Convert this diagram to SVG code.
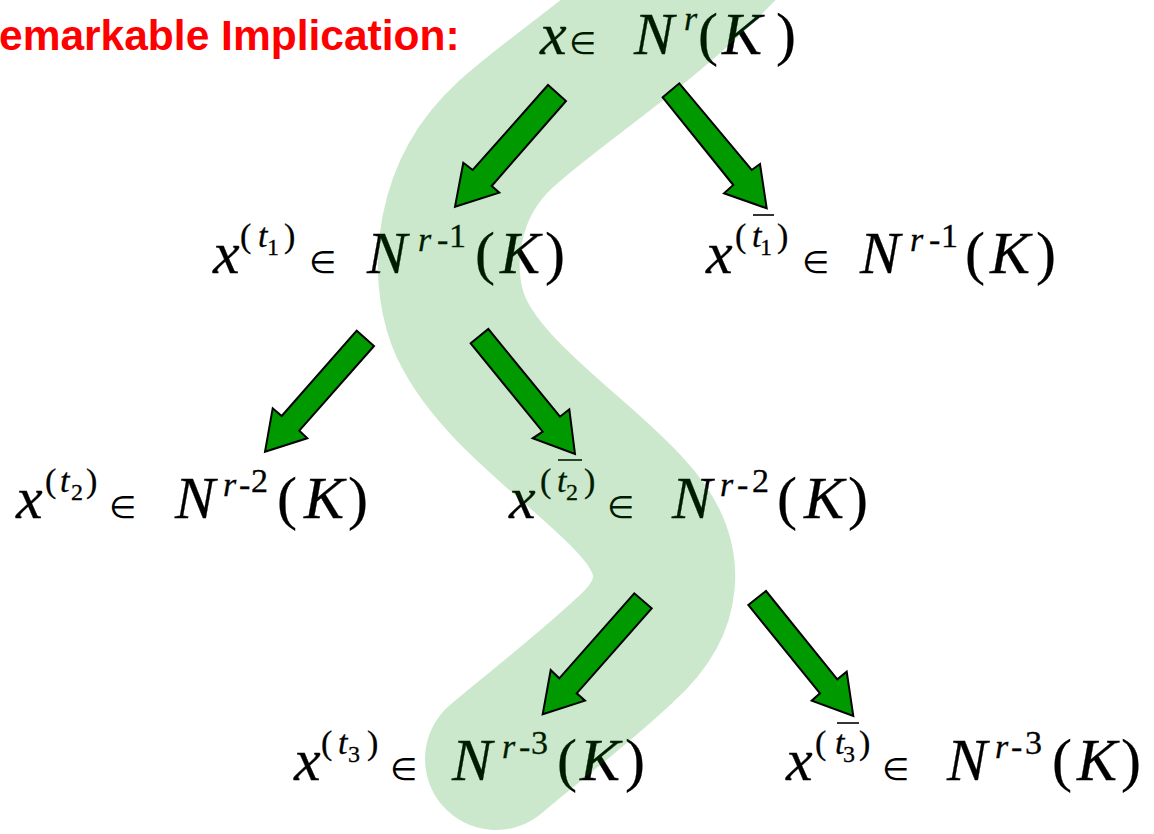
<svg xmlns="http://www.w3.org/2000/svg" width="1154" height="834" viewBox="0 0 1154 834">
<style>
.title{font-family:"Liberation Sans",Arial,sans-serif;font-weight:bold;font-size:42.5px;fill:#ff0000}
.m{font-family:"Liberation Serif","Times New Roman",serif;fill:#000;stroke:#000;stroke-width:0.3}
.i{font-style:italic}
.b{font-size:60px}
.s{font-size:34px}
.ss{font-size:24px}
.e{font-family:"DejaVu Sans",sans-serif;font-size:31px;stroke-width:0}
.ov{stroke:#000;stroke-width:1.6}
.arrow{fill:#009900;stroke:#000;stroke-width:2;stroke-linejoin:miter}
.band{fill:none;stroke:#008c00;stroke-opacity:0.2;stroke-width:142;stroke-linecap:round;stroke-linejoin:round}
</style>
<rect width="1154" height="834" fill="#fff"/>
<text id="title" class="title" x="-1" y="50">emarkable Implication:</text>

<g id="n0">
<text class="m"><tspan class="i b" x="540" y="54">x</tspan><tspan class="e" x="569" y="54">∈</tspan><tspan class="i b" x="634" y="54">N</tspan><tspan class="i s" x="684" y="30">r</tspan><tspan class="b" x="698" y="54">(</tspan><tspan class="i b" x="722" y="54">K</tspan><tspan class="b" x="776" y="54">)</tspan></text>
</g>

<g id="n1">
<text class="m"><tspan class="i b" x="213" y="273">x</tspan><tspan class="s" x="240" y="247">(</tspan><tspan class="i s" x="258" y="247">t</tspan><tspan class="ss" x="267" y="255">1</tspan><tspan class="s" x="284" y="247">)</tspan><tspan class="e" x="309" y="273">∈</tspan><tspan class="i b" x="367" y="273">N</tspan><tspan class="i s" x="418" y="251">r</tspan><tspan class="s" x="437" y="251">-</tspan><tspan class="s" x="449" y="247">1</tspan><tspan class="b" x="475" y="273">(</tspan><tspan class="i b" x="500" y="273">K</tspan><tspan class="b" x="545" y="273">)</tspan></text>
</g>

<g id="n2">
<text class="m"><tspan class="i b" x="706" y="273">x</tspan><tspan class="s" x="735" y="247">(</tspan><tspan class="i s" x="752" y="247">t</tspan><tspan class="ss" x="760" y="255">1</tspan><tspan class="s" x="777" y="247">)</tspan><tspan class="e" x="802" y="273">∈</tspan><tspan class="i b" x="860" y="273">N</tspan><tspan class="i s" x="910" y="251">r</tspan><tspan class="s" x="929" y="251">-</tspan><tspan class="s" x="941" y="247">1</tspan><tspan class="b" x="965" y="273">(</tspan><tspan class="i b" x="990" y="273">K</tspan><tspan class="b" x="1036" y="273">)</tspan></text>
<line class="ov" x1="753" y1="215" x2="774" y2="215"/>
</g>

<g id="n3">
<text class="m"><tspan class="i b" x="16" y="518">x</tspan><tspan class="s" x="45" y="492">(</tspan><tspan class="i s" x="60" y="492">t</tspan><tspan class="ss" x="71" y="500">2</tspan><tspan class="s" x="86" y="492">)</tspan><tspan class="e" x="109" y="518">∈</tspan><tspan class="i b" x="175" y="518">N</tspan><tspan class="i s" x="223" y="496">r</tspan><tspan class="s" x="239" y="496">-</tspan><tspan class="s" x="251" y="492">2</tspan><tspan class="b" x="277" y="518">(</tspan><tspan class="i b" x="304" y="518">K</tspan><tspan class="b" x="348" y="518">)</tspan></text>
</g>

<g id="n4">
<text class="m"><tspan class="i b" x="509" y="518">x</tspan><tspan class="s" x="540" y="492">(</tspan><tspan class="i s" x="557" y="492">t</tspan><tspan class="ss" x="566" y="500">2</tspan><tspan class="s" x="584" y="492">)</tspan><tspan class="e" x="607" y="518">∈</tspan><tspan class="i b" x="672" y="518">N</tspan><tspan class="i s" x="720" y="496">r</tspan><tspan class="s" x="737" y="496">-</tspan><tspan class="s" x="752" y="492">2</tspan><tspan class="b" x="777" y="518">(</tspan><tspan class="i b" x="804" y="518">K</tspan><tspan class="b" x="848" y="518">)</tspan></text>
<line class="ov" x1="558" y1="460" x2="582" y2="460"/>
</g>

<g id="n5">
<text class="m"><tspan class="i b" x="294" y="780">x</tspan><tspan class="s" x="321" y="754">(</tspan><tspan class="i s" x="338" y="754">t</tspan><tspan class="ss" x="348" y="762">3</tspan><tspan class="s" x="367" y="754">)</tspan><tspan class="e" x="390" y="780">∈</tspan><tspan class="i b" x="452" y="780">N</tspan><tspan class="i s" x="502" y="758">r</tspan><tspan class="s" x="519" y="758">-</tspan><tspan class="s" x="531" y="754">3</tspan><tspan class="b" x="557" y="780">(</tspan><tspan class="i b" x="580" y="780">K</tspan><tspan class="b" x="625" y="780">)</tspan></text>
</g>

<g id="n6">
<text class="m"><tspan class="i b" x="786" y="780">x</tspan><tspan class="s" x="815" y="754">(</tspan><tspan class="i s" x="835" y="754">t</tspan><tspan class="ss" x="843" y="762">3</tspan><tspan class="s" x="859" y="754">)</tspan><tspan class="e" x="882" y="780">∈</tspan><tspan class="i b" x="947" y="780">N</tspan><tspan class="i s" x="995" y="758">r</tspan><tspan class="s" x="1011" y="758">-</tspan><tspan class="s" x="1025" y="754">3</tspan><tspan class="b" x="1052" y="780">(</tspan><tspan class="i b" x="1077" y="780">K</tspan><tspan class="b" x="1121" y="780">)</tspan></text>
<line class="ov" x1="837" y1="723" x2="859" y2="723"/>
</g>

<g id="highlight">
<path class="band" d="M 730 -55 C 650 30, 560 85, 505 135 C 445 190, 440 270, 458 320 C 485 390, 580 450, 630 505 C 682 560, 670 610, 625 650 C 580 692, 530 730, 496 759"/>
</g>

<g id="connectors">
<polygon class="arrow" points="548,85 472.7,170 463.3,162.7 455,206.7 499.3,192.7 491.7,186 566,101"/>
<polygon class="arrow" points="662.7,97.3 679.3,83.3 751.7,170 760,164 766.7,208.3 724,193.3 733.3,185"/>
<polygon class="arrow" points="356.7,330.7 281.7,416 272.7,408.3 265,451.7 307.3,438.3 299.3,430.7 374,346"/>
<polygon class="arrow" points="470.7,343.3 488.3,329 560,416.7 569.3,409.3 575,454 532.7,438.3 542.7,431.7"/>
<polygon class="arrow" points="634.3,593.3 559.3,678.3 550.7,670 542.7,714.3 585,700.7 576.7,693.3 651.7,608.3"/>
<polygon class="arrow" points="748.3,605 766,591 837.3,679.3 846.7,671.7 853.3,716 811.7,700.7 820,693.3"/>
</g>
</svg>
